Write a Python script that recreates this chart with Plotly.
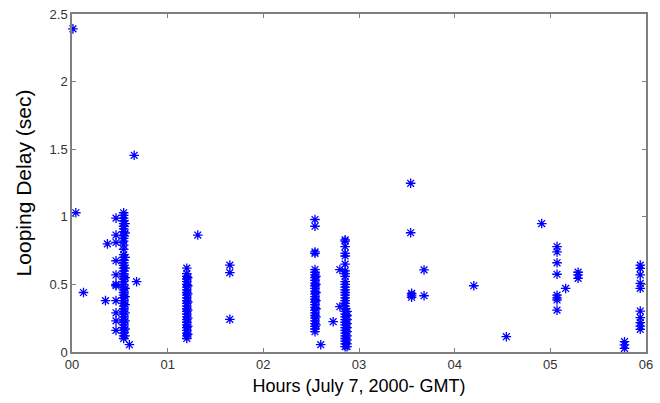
import plotly.graph_objects as go

# Tick labels
x_tickvals = [0, 1, 2, 3, 4, 5, 6]
x_ticktext = ["00", "01", "02", "03", "04", "05", "06"]
y_tickvals = [0, 0.5, 1, 1.5, 2, 2.5]
y_ticktext = ["0", "0.5", "1", "1.5", "2", "2.5"]

# Isolated measurements (hours, seconds)
iso_x = [0.01, 0.04, 0.12, 0.35, 0.37, 0.65, 0.60, 0.675, 1.315, 1.65, 1.65, 1.65,
         2.60, 2.73, 2.80, 2.80, 3.54, 3.54, 3.55, 3.55, 3.55, 3.68, 3.68, 4.20, 4.54,
         4.91, 5.16, 5.29, 5.29, 5.29, 5.775, 5.775, 5.775]
iso_y = [2.39, 1.03, 0.44, 0.38, 0.80, 1.455, 0.054, 0.52, 0.865, 0.643, 0.587, 0.242,
         0.054, 0.224, 0.61, 0.335, 1.248, 0.882, 0.42, 0.434, 0.405, 0.607, 0.416, 0.49, 0.113,
         0.95, 0.47, 0.59, 0.57, 0.545, 0.076, 0.052, 0.027]

# Column near 0.46 h
c046_x = [0.46] * 11
c046_y = [0.99, 0.865, 0.81, 0.675, 0.57, 0.50, 0.49, 0.38, 0.29, 0.23, 0.16]

# Dense column near 0.54 h
c054_y = [1.03, 1.01, 0.99, 0.97, 0.95, 0.93, 0.91, 0.89, 0.86, 0.84, 0.82, 0.79,
          0.76, 0.72, 0.70, 0.68, 0.66, 0.64, 0.62, 0.60, 0.58, 0.56, 0.54, 0.52,
          0.50, 0.48, 0.46, 0.44, 0.42, 0.40, 0.38, 0.36, 0.34, 0.32, 0.30, 0.28,
          0.26, 0.24, 0.22, 0.20, 0.18, 0.16, 0.14, 0.12, 0.10]
c054_x = [0.54] * len(c054_y)
c054b_y = [0.95, 0.88, 0.70, 0.62, 0.55, 0.47, 0.41, 0.35, 0.29, 0.23, 0.17, 0.12]
c054b_x = [0.555] * len(c054b_y)

# Dense column near 1.20 h
c120_y = [0.62, 0.58, 0.56, 0.54, 0.52, 0.50, 0.48, 0.46, 0.44, 0.42, 0.40, 0.38,
          0.36, 0.34, 0.32, 0.30, 0.28, 0.26, 0.24, 0.22, 0.20, 0.18, 0.16, 0.14,
          0.12, 0.10]
c120_x = [1.20] * len(c120_y)
c120b_y = [0.55, 0.49, 0.43, 0.37, 0.31, 0.25, 0.19, 0.13]
c120b_x = [1.21] * len(c120b_y)

# Dense column near 2.54 h
c254_y = [0.98, 0.93, 0.74, 0.73, 0.61, 0.59, 0.57, 0.55, 0.53, 0.51, 0.49, 0.47,
          0.45, 0.43, 0.41, 0.39, 0.37, 0.35, 0.33, 0.31, 0.29, 0.27, 0.25, 0.23,
          0.21, 0.19, 0.17, 0.15]
c254_x = [2.54] * len(c254_y)
c254b_y = [0.56, 0.50, 0.44, 0.38, 0.32, 0.26, 0.20]
c254b_x = [2.55] * len(c254b_y)

# Dense column near 2.86 h
c286_y = [0.83, 0.82, 0.78, 0.73, 0.71, 0.65, 0.60, 0.58, 0.56, 0.52, 0.50, 0.48,
          0.46, 0.44, 0.42, 0.40, 0.38, 0.36, 0.34, 0.32, 0.30, 0.28, 0.26, 0.24,
          0.22, 0.20, 0.18, 0.16, 0.14, 0.12, 0.10, 0.08, 0.06, 0.04]
c286_x = [2.855] * len(c286_y)
c286b_y = [0.30, 0.27, 0.24, 0.21, 0.18, 0.15, 0.12, 0.09, 0.06, 0.04]
c286b_x = [2.875] * len(c286b_y)

# Column near 5.07 h
c507_y = [0.78, 0.74, 0.66, 0.575, 0.42, 0.40, 0.385, 0.31]
c507_x = [5.07] * len(c507_y)

# Column near 5.94 h
c594_y = [0.643, 0.619, 0.57, 0.508, 0.471, 0.303, 0.254, 0.217, 0.192, 0.168]
c594_x = [5.94] * len(c594_y)

xs = (iso_x + c046_x + c054_x + c054b_x + c120_x + c120b_x + c254_x + c254b_x
      + c286_x + c286b_x + c507_x + c594_x)
ys = (iso_y + c046_y + c054_y + c054b_y + c120_y + c120b_y + c254_y + c254b_y
      + c286_y + c286b_y + c507_y + c594_y)

fig = go.Figure()
fig.add_trace(go.Scatter(
    x=xs, y=ys, mode="markers",
    marker=dict(symbol="asterisk-open", size=8, color="#0000ff",
                line=dict(color="#0000ff", width=1.3)),
    showlegend=False, cliponaxis=False,
))

axis_common = dict(
    showgrid=False, zeroline=False, showline=True, linecolor="#7f7f7f", linewidth=1.5,
    mirror="ticks", ticks="inside", ticklen=4, tickcolor="#7f7f7f", tickwidth=1,
    tickfont=dict(family="Liberation Sans, Arial, sans-serif", size=13, color="#333333"),
)

fig.update_layout(
    width=660, height=403,
    margin=dict(l=72, r=7, t=14, b=51),
    paper_bgcolor="white", plot_bgcolor="white",
    xaxis=dict(range=[0, 6], tickvals=x_tickvals, ticktext=x_ticktext,
               title=dict(text="Hours (July 7, 2000- GMT)", standoff=8,
                          font=dict(family="Liberation Sans, Arial, sans-serif", size=18, color="#000000")),
               **axis_common),
    yaxis=dict(range=[0, 2.5], tickvals=y_tickvals, ticktext=y_ticktext,
               title=dict(text="Looping Delay (sec)", standoff=12,
                          font=dict(family="Liberation Sans, Arial, sans-serif", size=21, color="#000000")),
               **axis_common),
)

fig.write_html("out.html")
